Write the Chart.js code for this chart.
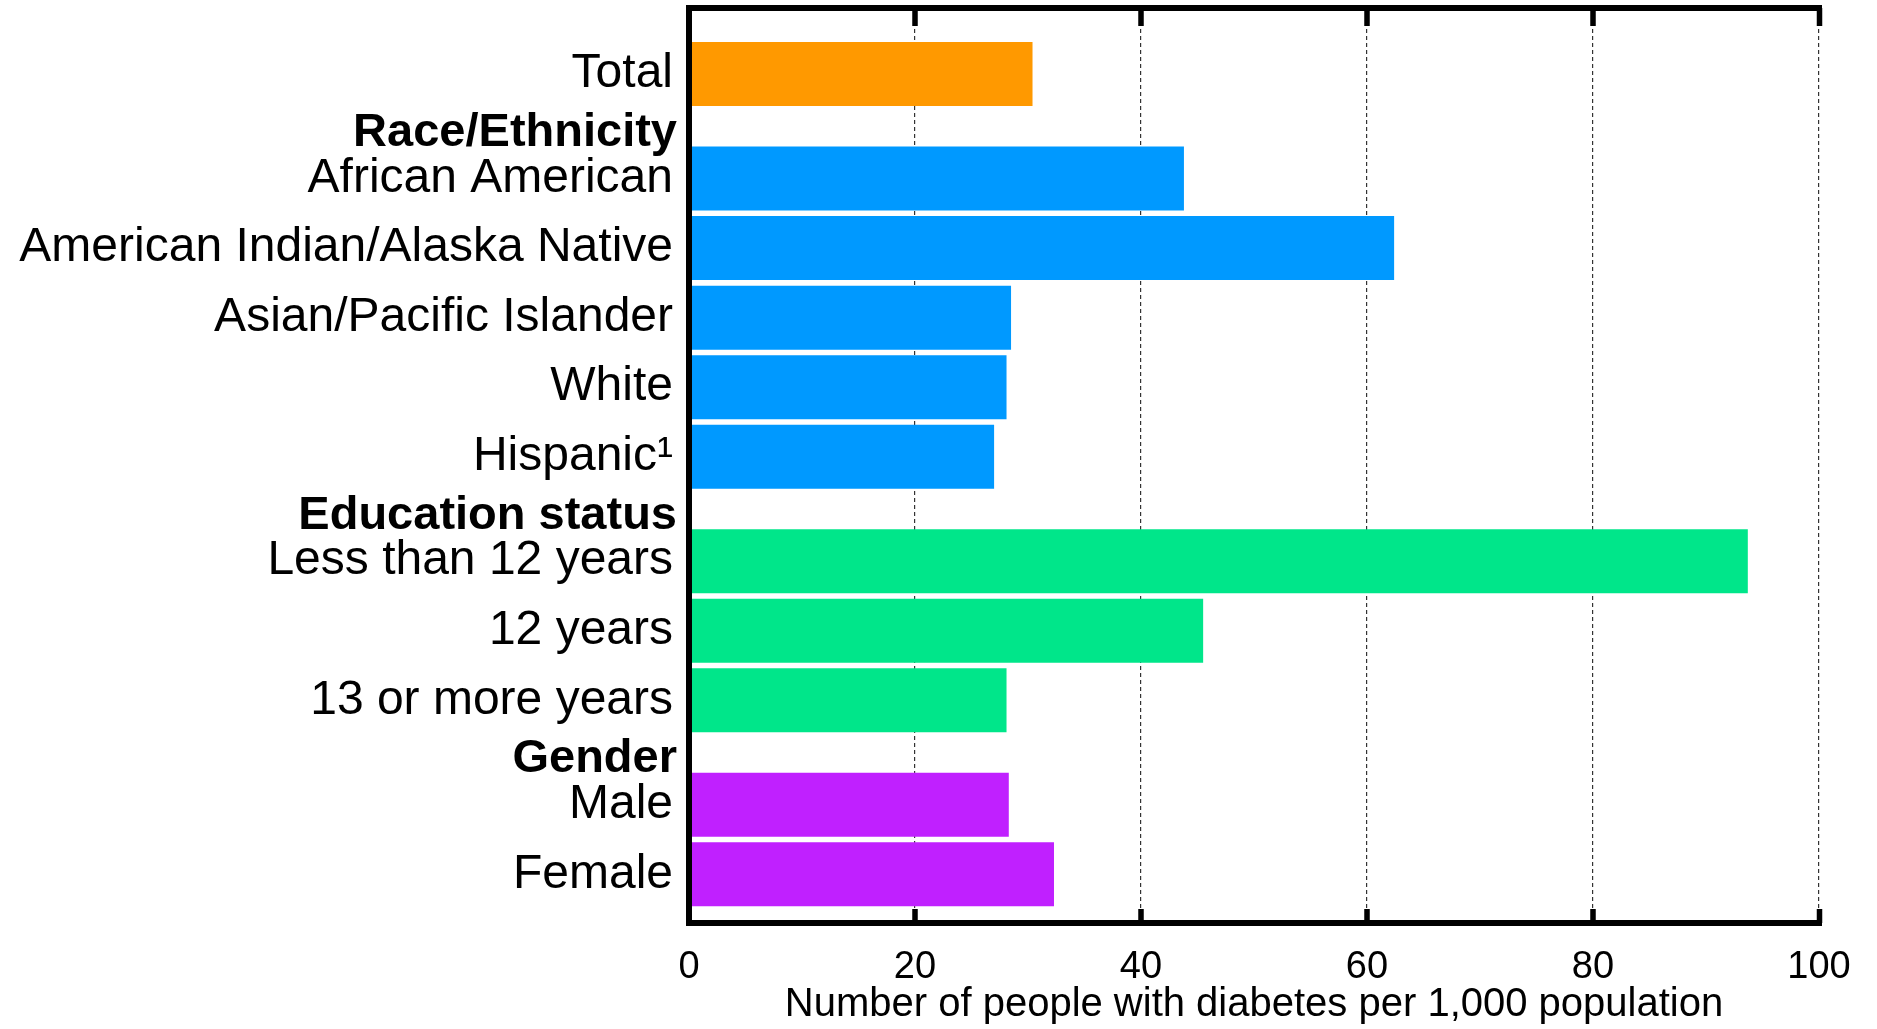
<!DOCTYPE html>
<html>
<head>
<meta charset="utf-8">
<script src="https://cdn.jsdelivr.net/npm/chart.js@4.4.0/dist/chart.umd.min.js"></script>
<style>
  html, body { margin: 0; padding: 0; background: #fff; }
  #wrap { width: 1877px; height: 1029px; }
</style>
</head>
<body>
<div id="wrap"><canvas id="myChart"></canvas></div>
<script>
// rows, top to bottom
const categories = ['Total', 'African American', 'American Indian/Alaska Native', 'Asian/Pacific Islander',
  'White', 'Hispanic\u00b9', 'Less than 12 years', '12 years', '13 or more years', 'Male', 'Female'];
const values = [30.4, 43.8, 62.4, 28.5, 28.1, 27.0, 93.7, 45.5, 28.1, 28.3, 32.3];
const groupOf = [0, 1, 1, 1, 1, 1, 2, 2, 2, 3, 3];
const groupNames = ['', 'Race/Ethnicity', 'Education status', 'Gender'];
const groupColors = ['#FF9900', '#0099FF', '#00E68A', '#C020FF'];
const xTicks = [0, 20, 40, 60, 80, 100];
const xTitle = 'Number of people with diabetes per 1,000 population';

const FONT = "'Liberation Sans', Arial, sans-serif";

// a group heading adds half a row above its first bar
const rowPos = [];
const headPos = [];
const headText = [];
let pos = 0;
categories.forEach((c, i) => {
  if (i > 0 && groupOf[i] !== groupOf[i - 1]) {
    pos += 0.5;
    if (groupNames[groupOf[i]]) {
      headPos.push(pos - 0.65);
      headText.push(groupNames[groupOf[i]]);
    }
  }
  rowPos.push(pos);
  pos += 1;
});

const Y_MIN = -0.95, Y_MAX = 12.2;
const noPad = s => { s.paddingTop = 0; s.paddingBottom = 0; s.paddingLeft = 0; s.paddingRight = 0; };

// thick frame on top, left, bottom with inward tick marks,
// plus the bold group headings placed through the y scale
const framePlugin = {
  id: 'frame',
  afterDatasetsDraw(chart) {
    const {ctx, chartArea: a, scales: {x, y}} = chart;
    ctx.save();
    ctx.strokeStyle = '#000';
    ctx.lineCap = 'butt';
    ctx.lineJoin = 'miter';
    ctx.lineWidth = 6;
    ctx.beginPath();
    ctx.moveTo(a.right + 3, a.top);
    ctx.lineTo(a.left, a.top);
    ctx.lineTo(a.left, a.bottom);
    ctx.lineTo(a.right + 3, a.bottom);
    ctx.stroke();
    ctx.lineWidth = 5.5;
    x.ticks.forEach(t => {
      if (t.value === 0) return;
      let px = x.getPixelForValue(t.value);
      if (t.value === 100) px = px + 0.5;
      ctx.beginPath();
      ctx.moveTo(px, a.top);
      ctx.lineTo(px, a.top + 18);
      ctx.moveTo(px, a.bottom);
      ctx.lineTo(px, a.bottom - 14);
      ctx.stroke();
    });

    ctx.fillStyle = '#000';
    ctx.font = 'bold 47px ' + FONT;
    ctx.textAlign = 'right';
    ctx.textBaseline = 'middle';
    headText.forEach((t, i) => {
      ctx.fillText(t, a.left - 12, y.getPixelForValue(headPos[i]));
    });
    ctx.restore();
  }
};

const ctx = document.getElementById('myChart');
new Chart(ctx, {
  type: 'bar',
  data: {
    datasets: [{
      data: categories.map((c, i) => ({x: values[i], y: rowPos[i]})),
      backgroundColor: groupOf.map(g => groupColors[g]),
      borderWidth: 0,
      barPercentage: 0.92,
      categoryPercentage: 1
    }]
  },
  options: {
    indexAxis: 'y',
    responsive: true,
    maintainAspectRatio: false,
    devicePixelRatio: 1,
    animation: false,
    layout: {padding: {top: 8, right: 58, bottom: 0, left: 0}},
    plugins: {legend: {display: false}, tooltip: {enabled: false}},
    scales: {
      x: {
        type: 'linear', min: 0, max: 100,
        afterBuildTicks: s => { s.ticks = xTicks.map(v => ({value: v})); },
        afterFit: s => { s.height = 106; noPad(s); },
        grid: {
          color: c => (c.tick && c.tick.value === 0) ? 'rgba(0,0,0,0)' : '#333',
          lineWidth: 1.2,
          drawTicks: false
        },
        border: {display: false, dash: [4, 3]},
        ticks: {padding: 22, color: '#000', font: {family: FONT, size: 38}},
        title: {display: true, text: xTitle, color: '#000', font: {family: FONT, size: 40}, padding: 0}
      },
      y: {
        type: 'linear', position: 'left', reverse: true, offset: false,
        min: Y_MIN, max: Y_MAX,
        afterBuildTicks: s => { s.ticks = rowPos.map(v => ({value: v})); s.min = Y_MIN; s.max = Y_MAX; },
        afterFit: s => { s.width = 689; noPad(s); },
        grid: {display: false, drawTicks: false, offset: false},
        border: {display: false},
        ticks: {
          autoSkip: false, padding: 16, color: '#000',
          font: {family: FONT, size: 48},
          callback: (v, i) => categories[i]
        }
      }
    }
  },
  plugins: [framePlugin]
});
</script>
</body>
</html>
